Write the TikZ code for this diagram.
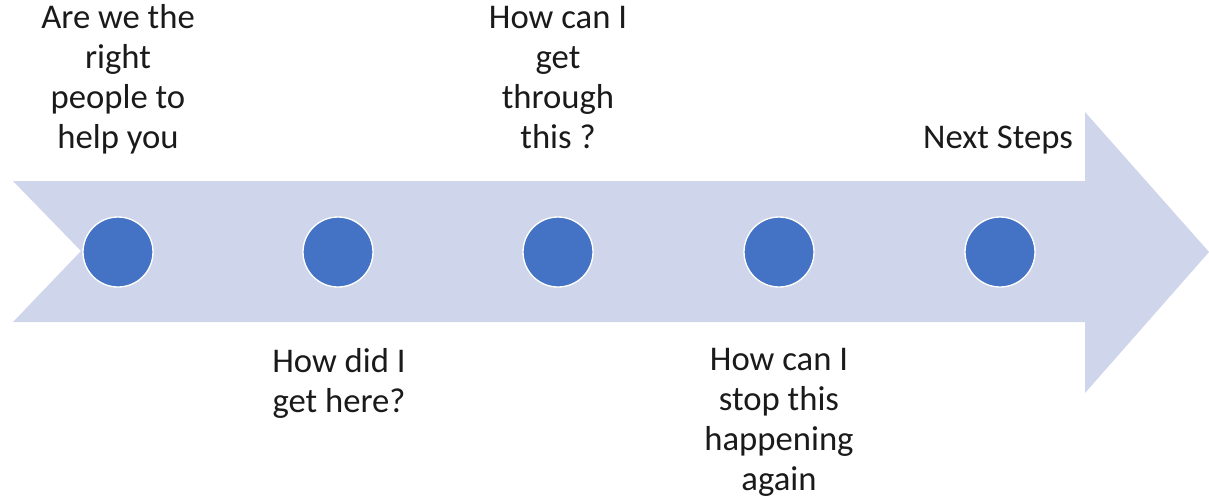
\documentclass[tikz,border=0pt]{standalone}
\usepackage{fontspec}
\setmainfont{Carlito}
\definecolor{arrowfill}{HTML}{CFD5EA}
\definecolor{dotfill}{HTML}{4472C4}
\definecolor{txt}{HTML}{1A1A1A}
\begin{document}
\begin{tikzpicture}[x=0.75pt,y=-0.75pt,
  dot/.style={circle,fill=dotfill,draw=white,line width=1pt,minimum size=52.5pt,inner sep=0pt},
  lbl/.style={align=center,inner sep=0pt,anchor=base,font=\fontsize{26}{30}\selectfont,text=txt}]
\useasboundingbox (0,0) rectangle (1209,501);
\fill[arrowfill] (13,181) -- (1085,181) -- (1085,112) -- (1209,252) -- (1085,393) -- (1085,322) -- (13,322) -- (81,251) -- cycle;
\node[dot] (d1) at (118,252) {};
\node[dot] (d2) at (338,252) {};
\node[dot] (d3) at (558,252) {};
\node[dot] (d4) at (779,252) {};
\node[dot] (d5) at (1000,252) {};
\node[lbl] (t1) at (118,148) {Are we the\\right\\people to\\help you};
\node[lbl] (t3) at (558,148) {How can I\\get\\through\\this ?};
\node[lbl] (t5) at (998,148) {Next Steps};
\node[lbl] (t2) at (339,412) {How did I\\get here?};
\node[lbl] (t4) at (779,490) {How can I\\stop this\\happening\\again};
\end{tikzpicture}
\end{document}
